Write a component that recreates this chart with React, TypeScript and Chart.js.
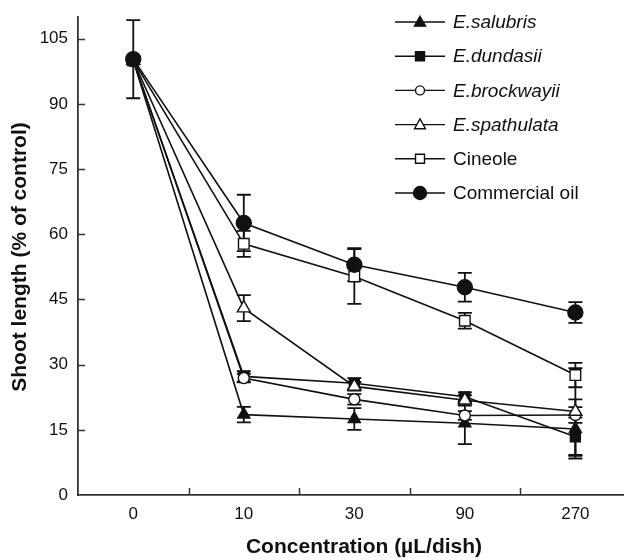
import { useEffect, useRef } from 'react';
import { Chart, registerables } from 'chart.js';

Chart.register(...registerables);

const FONT = '"Liberation Sans", Arial, Helvetica, sans-serif';

// Data
const categories = ['0', '10', '30', '90', '270'];
const yTickValues = [0, 15, 30, 45, 60, 75, 90, 105];

const salubris = [100, 18.5, 17.5, 16.5, 15.2];
const salubrisErr = [0, 1.8, 2.5, 4.8, 6.8];
const dundasii = [100, 27.3, 25.7, 22.6, 13.4];
const dundasiiErr = [0, 1.2, 1.2, 1.0, 4.4];
const brockwayii = [100, 26.9, 22.0, 18.3, 18.4];
const brockwayiiErr = [0, 1.0, 1.2, 1.0, 1.8];
const spathulata = [100, 43.0, 25.0, 21.8, 19.2];
const spathulataErr = [0, 3.0, 1.0, 1.2, 10.0];
const cineole = [100, 57.8, 50.3, 40.1, 27.6];
const cineoleErr = [0, 3.0, 6.3, 1.8, 2.8];
const commercial = [100.3, 62.6, 53.0, 47.8, 42.0];
const commercialErr = [9, 6.5, 3.8, 3.3, 2.4];

const seriesNames = ['E.salubris', 'E.dundasii', 'E.brockwayii', 'E.spathulata', 'Cineole', 'Commercial oil'];
const seriesItalic = [true, true, true, true, false, false];
const seriesValues = [salubris, dundasii, brockwayii, spathulata, cineole, commercial];
const seriesErrors = [salubrisErr, dundasiiErr, brockwayiiErr, spathulataErr, cineoleErr, commercialErr];
const seriesStyle = ['triangle', 'rect', 'circle', 'triangle', 'rect', 'circle'];
const seriesFilled = [true, true, false, false, false, true];
const seriesRadius = [7, 7, 5.5, 7.5, 7.5, 7.5];
const seriesOrder = [5, 4, 3, 2, 1, 0];

const INK = '#111';

function drawMarker(ctx: CanvasRenderingContext2D, style: string, filled: boolean, x: number, y: number, r: number) {
  ctx.beginPath();
  if (style === 'circle') {
    ctx.arc(x, y, r, 0, Math.PI * 2);
  } else if (style === 'rect') {
    ctx.rect(x - r, y - r, 2 * r, 2 * r);
  } else {
    ctx.moveTo(x, y - r * 1.05);
    ctx.lineTo(x + r, y + r * 0.75);
    ctx.lineTo(x - r, y + r * 0.75);
    ctx.closePath();
  }
  ctx.fillStyle = filled ? INK : '#fff';
  ctx.fill();
  ctx.lineWidth = 1.4;
  ctx.strokeStyle = INK;
  ctx.stroke();
}

const errorBarPlugin = {
  id: 'errorBars',
  beforeDatasetsDraw(chart: any) {
    const { ctx, scales } = chart;
    const xs = scales.x;
    const ys = scales.y;
    ctx.save();
    ctx.strokeStyle = INK;
    ctx.lineWidth = 1.8;
    chart.data.datasets.forEach((ds: any) => {
      const errs = ds.errors as number[];
      if (!errs) return;
      ds.data.forEach((p: any, i: number) => {
        const e = errs[i];
        if (!e) return;
        const px = xs.getPixelForValue(p.x);
        const top = ys.getPixelForValue(p.y + e);
        const bot = ys.getPixelForValue(p.y - e);
        ctx.beginPath();
        ctx.moveTo(px, top);
        ctx.lineTo(px, bot);
        ctx.moveTo(px - 7, top);
        ctx.lineTo(px + 7, top);
        ctx.moveTo(px - 7, bot);
        ctx.lineTo(px + 7, bot);
        ctx.stroke();
      });
    });
    ctx.restore();
  },
};

const decorPlugin = {
  id: 'decor',
  afterDraw(chart: any) {
    const { ctx, chartArea, scales } = chart;
    const xs = scales.x;
    const ys = scales.y;
    ctx.save();
    // inner tick marks
    ctx.strokeStyle = '#333';
    ctx.lineWidth = 1.5;
    ctx.beginPath();
    yTickValues.forEach((v) => {
      if (v === 0) return;
      const py = Math.round(ys.getPixelForValue(v)) + 0.5;
      ctx.moveTo(chartArea.left, py);
      ctx.lineTo(chartArea.left + 7, py);
    });
    for (let i = 0; i < categories.length - 1; i++) {
      const px = Math.round(xs.getPixelForValue(i + 0.5)) + 0.5;
      ctx.moveTo(px, chartArea.bottom);
      ctx.lineTo(px, chartArea.bottom - 7);
    }
    ctx.stroke();

    // axis titles
    ctx.fillStyle = INK;
    ctx.font = `bold 21px ${FONT}`;
    ctx.textAlign = 'center';
    ctx.textBaseline = 'middle';
    ctx.fillText('Concentration (µL/dish)', 364, 547);
    ctx.save();
    ctx.translate(20, 257);
    ctx.rotate(-Math.PI / 2);
    ctx.fillText('Shoot length (% of control)', 0, 0);
    ctx.restore();

    // legend
    seriesNames.forEach((name, i) => {
      const ly = 22 + 34.2 * i;
      ctx.strokeStyle = INK;
      ctx.lineWidth = 1.4;
      ctx.beginPath();
      ctx.moveTo(395, ly);
      ctx.lineTo(445, ly);
      ctx.stroke();
      const style = seriesStyle[i];
      const r = style === 'circle' ? (seriesFilled[i] ? 6.5 : 4.5) : style === 'rect' ? 4.5 : 5.5;
      drawMarker(ctx, style, seriesFilled[i], 420, ly, r);
      ctx.fillStyle = INK;
      ctx.font = `${seriesItalic[i] ? 'italic ' : ''}19px ${FONT}`;
      ctx.textAlign = 'left';
      ctx.textBaseline = 'middle';
      ctx.fillText(name, 453, ly + 1);
    });
    ctx.restore();
  },
};

export default function App() {
  const ref = useRef<HTMLCanvasElement>(null);

  useEffect(() => {
    if (!ref.current) return;
    const datasets = seriesNames.map((name, i) => {
      const style = seriesStyle[i];
      const r = seriesRadius[i];
      return {
        label: name,
        data: seriesValues[i].map((v, j) => ({ x: j, y: v })),
        errors: seriesErrors[i],
        order: seriesOrder[i],
        borderColor: INK,
        borderWidth: 1.6,
        backgroundColor: seriesFilled[i] ? INK : '#fff',
        pointStyle: style,
        pointRadius: r,
        pointBorderWidth: 1.4,
        pointBorderColor: INK,
        pointBackgroundColor: seriesFilled[i] ? INK : '#fff',
        showLine: true,
        fill: false,
        tension: 0,
      };
    });
    const chart = new Chart(ref.current, {
      type: 'line',
      data: { datasets } as any,
      options: {
        animation: false,
        responsive: false,
        events: [],
        layout: { autoPadding: false, padding: { top: 17, right: 0, left: 0, bottom: 0 } },
        plugins: { legend: { display: false }, tooltip: { enabled: false } },
        scales: {
          x: {
            type: 'linear',
            min: -0.5,
            max: 4.44,
            grid: { display: false, drawTicks: false },
            border: { display: true, color: '#333', width: 1.8 },
            afterBuildTicks: (scale: any) => {
              scale.ticks = categories.map((_, i) => ({ value: i }));
            },
            afterFit: (scale: any) => {
              scale.height = 65;
              scale.paddingLeft = 0;
              scale.paddingRight = 0;
            },
            ticks: {
              color: INK,
              font: { family: FONT, size: 17 },
              padding: 9,
              maxRotation: 0,
              autoSkip: false,
              callback: (v: any) => categories[v as number] ?? '',
            },
          },
          y: {
            type: 'linear',
            min: 0,
            max: 110,
            grid: { display: false, drawTicks: false },
            border: { display: true, color: '#333', width: 1.8 },
            afterBuildTicks: (scale: any) => {
              scale.ticks = yTickValues.map((v) => ({ value: v }));
            },
            afterFit: (scale: any) => {
              scale.width = 78;
              scale.paddingTop = 0;
              scale.paddingBottom = 0;
            },
            ticks: {
              color: INK,
              font: { family: FONT, size: 17 },
              padding: 10,
              callback: (v: any) => String(v),
            },
          },
        },
      } as any,
      plugins: [errorBarPlugin, decorPlugin],
    });
    return () => chart.destroy();
  }, []);

  return (
    <canvas
      ref={ref}
      width={624}
      height={560}
      style={{ position: 'absolute', left: 0, top: 0, width: 624, height: 560, background: '#fff' }}
    />
  );
}
